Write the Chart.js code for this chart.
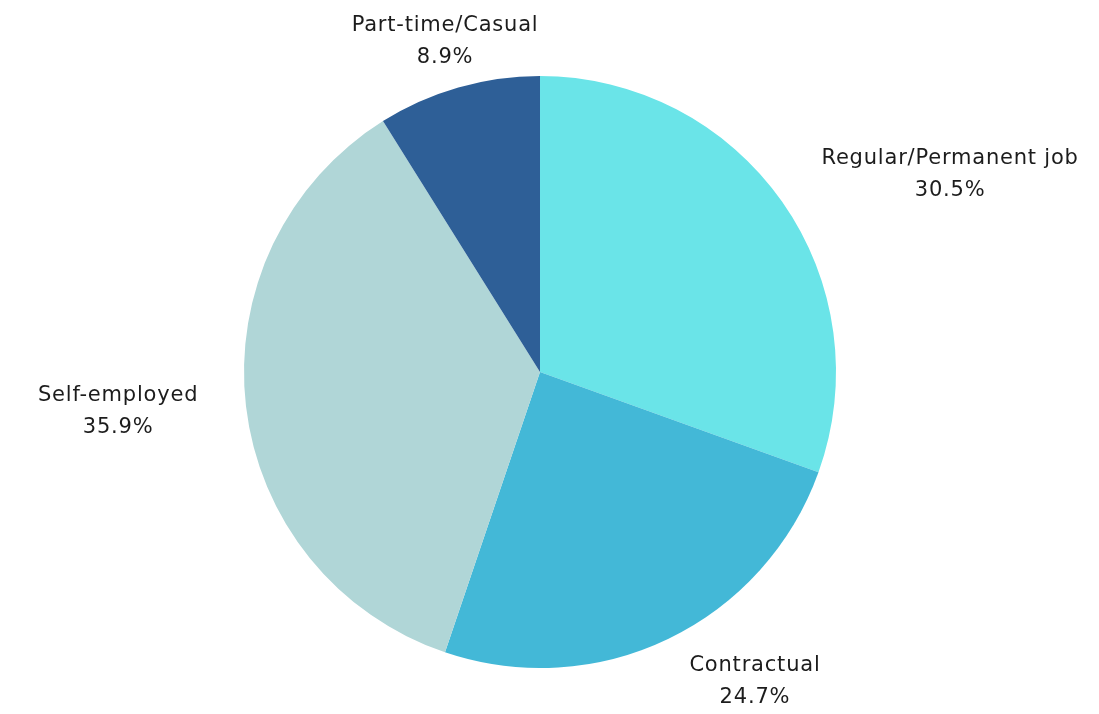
<!DOCTYPE html>
<html>
<head>
<meta charset="utf-8">
<script src="https://cdn.jsdelivr.net/npm/chart.js@4.4.0/dist/chart.umd.min.js"></script>
<style>
  html, body { margin: 0; padding: 0; background: #fff; }
  #wrap { width: 1099px; height: 714px; }
</style>
</head>
<body>
<div id="wrap"><canvas id="employmentPie"></canvas></div>
<script>
// Employment type shares (%)
const categories = ['Regular/Permanent job', 'Contractual', 'Self-employed', 'Part-time/Casual'];
const shares = [30.5, 24.7, 35.9, 8.9];
const sliceColors = ['#6ae4e8', '#43b8d7', '#b0d6d7', '#2e5f97'];

// two-line "name / value%" label outside each slice, block placed by side of the pie
const outsideLabels = {
  id: 'outsideLabels',
  afterDatasetsDraw(chart) {
    const ctx = chart.ctx;
    const meta = chart.getDatasetMeta(0);
    const lineH = 32;
    ctx.save();
    ctx.font = '21px "DejaVu Sans", sans-serif';
    ctx.letterSpacing = '0.8px';
    ctx.fillStyle = '#1c1c1c';
    ctx.textAlign = 'center';
    ctx.textBaseline = 'middle';
    meta.data.forEach((arc, i) => {
      const mid = (arc.startAngle + arc.endAngle) / 2;
      const r = arc.outerRadius + 48;
      const sx = Math.cos(mid), sy = Math.sin(mid);
      const x = arc.x + r * sx;
      const y = arc.y + r * sy;
      const value = shares[i].toFixed(1) + '%';
      const w = Math.max(ctx.measureText(categories[i]).width, ctx.measureText(value).width);
      let cx = x;
      if (sx > 0.3) cx = x + w / 2;
      else if (sx < -0.3) cx = x - w / 2;
      ctx.fillText(categories[i], cx, y - lineH / 2);
      ctx.fillText(value, cx, y + lineH / 2);
    });
    ctx.restore();
  }
};

new Chart(document.getElementById('employmentPie'), {
  type: 'pie',
  data: {
    labels: categories,
    datasets: [{
      data: shares,
      backgroundColor: sliceColors,
      borderWidth: 0
    }]
  },
  options: {
    responsive: true,
    maintainAspectRatio: false,
    animation: false,
    layout: { padding: { top: 76, bottom: 46, left: 244, right: 263 } },
    plugins: {
      legend: { display: false },
      tooltip: { enabled: false }
    }
  },
  plugins: [outsideLabels]
});
</script>
</body>
</html>
